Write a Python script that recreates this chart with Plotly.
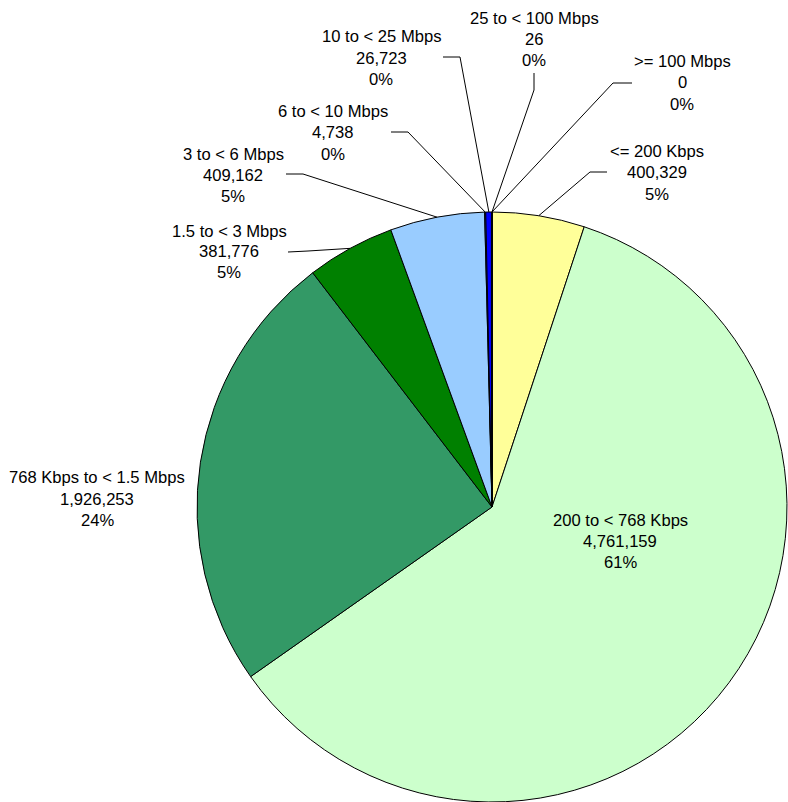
import math
import plotly.graph_objects as go

W, H = 788, 802

categories = ["<= 200 Kbps", "200 to < 768 Kbps", "768 Kbps to < 1.5 Mbps", "1.5 to < 3 Mbps",
              "3 to < 6 Mbps", "6 to < 10 Mbps", "10 to < 25 Mbps", "25 to < 100 Mbps", ">= 100 Mbps"]
values = [400329, 4761159, 1926253, 381776, 409162, 4738, 26723, 26, 0]
value_labels = ["400,329", "4,761,159", "1,926,253", "381,776", "409,162", "4,738", "26,723", "26", "0"]
pct_labels = ["5%", "61%", "24%", "5%", "5%", "0%", "0%", "0%", "0%"]
colors = ["#FFFF99", "#CCFFCC", "#339966", "#008000", "#99CCFF", "#3366FF", "#0000FF", "#000080", "#333399"]

# layout: pie centre and radius in pixels
CX, CY, R = 492, 507, 295

# label positions (pixel centre of first line) and leader elbows/ends (None = no leader)
label_pos = [(657, 152), (620, 520), (97, 478), (229, 231), (233, 154), (333, 112), (381, 37), (534, 18), (682, 62)]
leaders = [
    [(590, 172), (607, 172)],
    None,
    None,
    [(308, 251), (288, 252)],
    [(303, 174), (286, 174)],
    [(408, 132), (391, 132)],
    [(460, 57), (443, 57)],
    [(534, 90), (534, 73)],
    [(613, 83), (632, 83)],
]

def px(x):
    return x / W

def py(y):
    return 1 - y / H

fig = go.Figure()
fig.add_trace(go.Pie(
    labels=categories, values=values, sort=False, direction="clockwise", rotation=0,
    marker=dict(colors=colors, line=dict(color="black", width=1)),
    textinfo="none", hoverinfo="label+value+percent", showlegend=False,
    domain=dict(x=[px(CX - R), px(CX + R)], y=[py(CY + R), py(CY - R)]),
))

total = sum(values)
cum = 0
shapes = []
annotations = []
font = dict(family="Liberation Sans, Arial, sans-serif", size=16.6, color="black")
for i, v in enumerate(values):
    mid = (cum + v / 2) / total
    cum += v
    ang = 2 * math.pi * mid
    sx = CX + R * math.sin(ang)
    sy = CY - R * math.cos(ang)
    if leaders[i]:
        pts = [(sx, sy)] + leaders[i]
        for (x0, y0), (x1, y1) in zip(pts[:-1], pts[1:]):
            shapes.append(dict(type="line", xref="paper", yref="paper",
                               x0=px(x0), y0=py(y0), x1=px(x1), y1=py(y1),
                               line=dict(color="black", width=1)))
    lx, ly = label_pos[i]
    for j, t in enumerate([categories[i], value_labels[i], pct_labels[i]]):
        annotations.append(dict(text=t, xref="paper", yref="paper", x=px(lx), y=py(ly + 21 * j),
                                xanchor="center", yanchor="middle", showarrow=False, font=font))

fig.update_layout(
    width=W, height=H, margin=dict(l=0, r=0, t=0, b=0),
    paper_bgcolor="white", plot_bgcolor="white",
    shapes=shapes, annotations=annotations,
)
fig.write_html("out.html", config={"displayModeBar": False},
               post_script="document.body.style.margin='0';document.body.style.overflow='hidden';")
